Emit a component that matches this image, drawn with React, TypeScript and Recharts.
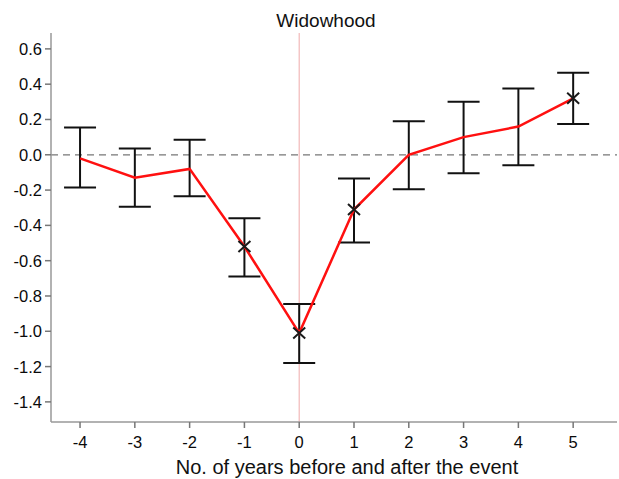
import React from "react";
import {
  ComposedChart,
  Line,
  XAxis,
  YAxis,
  ErrorBar,
  ReferenceLine,
} from "recharts";

const years = [-4, -3, -2, -1, 0, 1, 2, 3, 4, 5];
const estimates = [-0.02, -0.13, -0.08, -0.52, -1.01, -0.31, 0.0, 0.1, 0.16, 0.32];
const upperBounds = [0.155, 0.035, 0.085, -0.36, -0.845, -0.135, 0.19, 0.3, 0.375, 0.465];
const lowerBounds = [-0.185, -0.295, -0.235, -0.69, -1.18, -0.497, -0.195, -0.105, -0.06, 0.175];
const markedPoints = [false, false, false, true, true, true, false, false, false, true];
const yTicks = [-1.4, -1.2, -1.0, -0.8, -0.6, -0.4, -0.2, 0.0, 0.2, 0.4, 0.6];
const xTicks = years;
const title = "Widowhood";
const xLabel = "No. of years before and after the event";

const data = years.map((x, i) => ({
  x,
  y: estimates[i],
  err: [estimates[i] - lowerBounds[i], upperBounds[i] - estimates[i]],
  mark: markedPoints[i],
}));

const FONT = "'Liberation Sans', Arial, sans-serif";
const TICK_SIZE = 16.5;

const XDot = (props: any) => {
  const { cx, cy, payload, index } = props;
  if (!payload || !payload.mark || cx == null || cy == null) {
    return <g key={`d${index}`} />;
  }
  const w = 6;
  const h = 5.5;
  return (
    <path
      key={`d${index}`}
      d={`M${cx - w},${cy - h}L${cx + w},${cy + h}M${cx - w},${cy + h}L${cx + w},${cy - h}`}
      stroke="#1a1a1a"
      strokeWidth={2}
      fill="none"
    />
  );
};

const YTick = (props: any) => {
  const { x, y, payload } = props;
  return (
    <text
      x={x}
      y={y}
      dy="0.36em"
      textAnchor="end"
      fontSize={TICK_SIZE}
      fontFamily={FONT}
      fill="#0a0a0a"
    >
      {Number(payload.value).toFixed(1)}
    </text>
  );
};

const XTick = (props: any) => {
  const { x, y, payload } = props;
  return (
    <text
      x={x}
      y={y}
      dy="0.71em"
      textAnchor="middle"
      fontSize={TICK_SIZE}
      fontFamily={FONT}
      fill="#0a0a0a"
    >
      {String(payload.value)}
    </text>
  );
};

export default function App() {
  return (
    <div
      style={{
        position: "absolute",
        left: 0,
        top: 0,
        width: 619,
        height: 479,
        background: "#fff",
        fontFamily: FONT,
      }}
    >
      <ComposedChart
        width={619}
        height={479}
        data={data}
        margin={{ top: 33, right: 2, bottom: 27, left: 0 }}
      >
        <XAxis
          type="number"
          dataKey="x"
          domain={[-4.53, 5.8]}
          ticks={xTicks}
          allowDataOverflow
          height={30}
          tickSize={6}
          tickMargin={8}
          axisLine={{ stroke: "#999", strokeWidth: 1.5 }}
          tickLine={{ stroke: "#777", strokeWidth: 1.5 }}
          tick={<XTick />}
        />
        <YAxis
          type="number"
          domain={[-1.514, 0.69]}
          ticks={yTicks}
          allowDataOverflow
          width={51}
          tickSize={6}
          tickMargin={3}
          axisLine={{ stroke: "#999", strokeWidth: 1.5 }}
          tickLine={{ stroke: "#777", strokeWidth: 1.5 }}
          tick={<YTick />}
        />
        <ReferenceLine x={0} stroke="#f2b8b8" strokeWidth={1.2} />
        <ReferenceLine y={0} stroke="#777" strokeWidth={1.3} strokeDasharray="7 5" />
        <Line
          type="linear"
          dataKey="y"
          stroke="#ff1010"
          strokeWidth={2.5}
          dot={XDot}
          activeDot={false}
          isAnimationActive={false}
        >
          <ErrorBar
            dataKey="err"
            direction="y"
            width={16}
            stroke="#111"
            strokeWidth={2}
            isAnimationActive={false}
          />
        </Line>
      </ComposedChart>
      <div
        style={{
          position: "absolute",
          left: 226,
          width: 200,
          top: 9,
          textAlign: "center",
          fontSize: 19,
          lineHeight: "24px",
          color: "#111",
        }}
      >
        {title}
      </div>
      <div
        style={{
          position: "absolute",
          left: 97,
          width: 500,
          top: 455,
          textAlign: "center",
          fontSize: 20,
          lineHeight: "24px",
          color: "#111",
          whiteSpace: "nowrap",
        }}
      >
        {xLabel}
      </div>
    </div>
  );
}
